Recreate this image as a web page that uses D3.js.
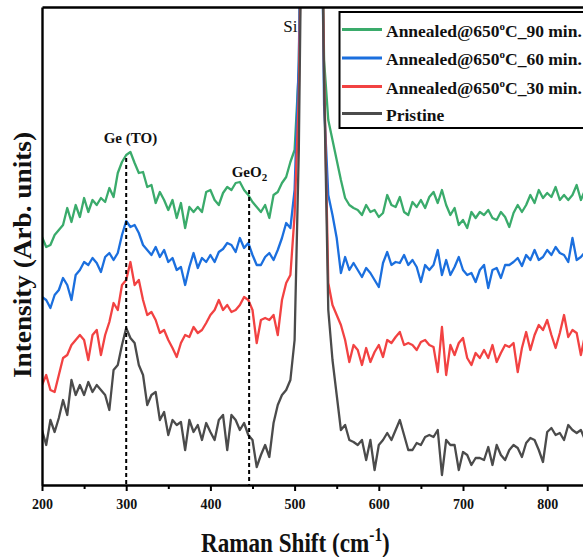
<!DOCTYPE html>
<html><head><meta charset="utf-8">
<script src="https://cdn.jsdelivr.net/npm/d3@7"></script>
<style>body{margin:0;background:#fff}svg{display:block}text{font-family:"Liberation Serif","Times New Roman",serif}</style>
</head><body><svg id="c" width="583" height="557"></svg>
<script>
const shift = [200,205,210,215,220,225,230,235,240,245,250,255,260,265,270,275,280,285,290,295,
300,305,310,315,320,325,330,335,340,345,350,355,360,365,370,375,380,385,390,395,
400,405,410,415,420,425,430,435,440,445,450,455,460,465,470,475,480,485,490,495,
500,505,510,515,520,525,530,535,540,545,550,555,560,565,570,575,580,585,590,595,
600,605,610,615,620,625,630,635,640,645,650,655,660,665,670,675,680,685,690,695,
700,705,710,715,720,725,730,735,740,745,750,755,760,765,770,775,780,785,790,795,
800,805,810,815,820,825,830,835,840,845,850];

const annealed90 = [248,238,240,250,255,260,277,263,280,268,287,273,285,280,287,283,297,288,312,323,
330,333,322,312,313,298,300,282,293,285,275,285,267,282,257,278,273,278,273,293,
295,285,280,292,298,295,302,303,295,290,283,278,273,280,267,290,293,302,308,323,
335,415,760,1150,1500,1150,760,425,365,345,325,305,287,280,277,275,270,280,273,275,
268,272,290,280,278,288,273,270,283,278,285,277,288,293,282,295,280,270,277,260,
265,257,273,267,273,270,275,267,265,273,268,258,272,280,273,280,290,282,295,287,
292,288,298,285,290,285,290,300,285,295,290];

const annealed60 = [188,185,177,190,195,207,200,185,210,215,223,220,227,222,213,228,232,225,232,250,
264,258,260,252,240,235,230,238,228,235,223,227,215,218,200,218,232,217,227,223,
230,223,233,236,242,240,233,247,237,242,230,220,220,228,232,225,235,247,262,257,
295,425,740,1120,1480,1120,740,380,290,270,247,212,228,215,222,215,208,217,212,205,
198,222,233,220,223,222,230,220,225,218,203,220,215,220,235,210,225,210,218,228,
215,210,212,203,215,220,197,215,217,207,220,220,223,227,219,230,225,235,225,228,
235,230,238,232,230,223,247,225,228,233,230];

const annealed30 = [100,110,95,93,110,127,130,140,145,150,145,125,150,155,130,150,163,182,175,200,
205,223,200,205,185,170,173,165,152,155,145,137,128,142,150,148,158,152,155,162,
170,175,185,175,180,173,175,180,188,185,175,142,165,167,165,170,150,185,202,210,
270,390,700,1100,1450,1100,720,415,202,180,170,160,145,123,140,135,120,137,123,133,
140,128,145,142,148,153,140,142,140,135,143,145,140,138,113,158,110,140,130,142,
147,127,120,132,127,135,127,140,123,132,140,138,142,113,137,153,135,150,160,155,
165,150,137,152,170,148,155,152,130,150,147];

const pristine = [55,40,65,53,67,85,70,105,90,100,90,103,93,100,95,90,75,115,120,140,
157,147,142,120,110,80,90,93,65,73,50,65,60,63,35,65,53,60,45,62,
53,45,65,70,35,70,65,55,62,50,45,18,30,40,28,62,80,90,95,105,
145,335,690,1080,1420,1080,700,405,175,125,90,55,60,45,43,40,45,25,45,15,
40,45,52,45,55,65,50,35,35,42,40,48,50,48,55,10,45,40,40,15,
33,30,20,27,27,25,38,20,40,30,25,35,40,37,28,42,47,45,35,23,
53,57,50,52,45,60,55,52,55,45,50];

const seriesNames = ["Annealed@650\u1D52C_90 min.","Annealed@650\u1D52C_60 min.","Annealed@650\u1D52C_30 min.","Pristine"];
const seriesColors = ["#3aab6b","#1b6fde","#f24242","#4b4b4b"];
const seriesValues = [annealed90, annealed60, annealed30, pristine];

const xTicks = [200,300,400,500,600,700,800];
const xMinorTicks = [250,350,450,550,650,750,850];

// peak annotation markers: position (cm-1), top of dashed line (a.u.)
const peakPos = [300, 446];
const peakTop = [327, 295];

const svg = d3.select("#c");
const W = 583, H = 557;
const m = {left:42, top:7, bottom:72};
const x = d3.scaleLinear().domain([200,850]).range([42, 42+650*0.842]);
const y = d3.scaleLinear().domain([0,478]).range([H-m.bottom, m.top]);

svg.append("defs").append("clipPath").attr("id","clip")
  .append("rect").attr("x",x(200)).attr("y",y(478)).attr("width",W).attr("height",y(0)-y(478));

const plot = svg.append("g").attr("clip-path","url(#clip)");
const line = d3.line().x((d,i)=>x(shift[i])).y(d=>y(d));
seriesValues.forEach((vals,k)=>{
  plot.append("path").datum(vals).attr("d",line)
    .attr("fill","none").attr("stroke",seriesColors[k]).attr("stroke-width",2.3)
    .attr("stroke-linejoin","round");
});

// dashed markers
peakPos.forEach((p,i)=>{
  svg.append("line").attr("x1",x(p)).attr("x2",x(p)).attr("y1",y(peakTop[i])).attr("y2",y(0))
    .attr("stroke","#000").attr("stroke-width",2).attr("stroke-dasharray","4,3");
});

// axes
const xAxis = svg.append("g").attr("transform",`translate(0,${y(0)})`)
  .call(d3.axisBottom(x).tickValues(xTicks).tickSize(6).tickSizeOuter(0).tickPadding(8));
xAxis.select(".domain").attr("stroke-width",2.6);
xAxis.selectAll(".tick line").attr("stroke-width",2);
xAxis.selectAll(".tick text").attr("font-size",14).attr("font-weight","bold")
  .attr("font-family","Liberation Serif").attr("fill","#111");
const xMinor = svg.append("g").attr("transform",`translate(0,${y(0)})`)
  .call(d3.axisBottom(x).tickValues(xMinorTicks).tickSize(4).tickSizeOuter(0).tickFormat(""));
xMinor.select(".domain").remove();
xMinor.selectAll(".tick line").attr("stroke-width",2);

const yAxis = svg.append("g").attr("transform",`translate(${x(200)},0)`)
  .call(d3.axisLeft(y).tickValues([]).tickSizeOuter(0));
yAxis.select(".domain").attr("stroke-width",2.4);
const topAxis = svg.append("g").attr("transform",`translate(0,${y(478)})`)
  .call(d3.axisTop(x).tickValues([]).tickSizeOuter(0));
topAxis.select(".domain").attr("stroke-width",2.4);

// x label
const xl = svg.append("text").attr("x",201).attr("y",552).attr("font-size",27).attr("font-weight","bold").attr("fill","#111");
xl.append("tspan").text("Raman Shift (cm");
xl.append("tspan").attr("font-size",18).attr("dy",-11).text("-1");
xl.append("tspan").attr("dy",11).text(")");
{ const w = xl.node().getBBox().width; const s = 189/w;
  xl.attr("transform",`translate(201,0) scale(${s},1) translate(-201,0)`); }

// y label
const yl = svg.append("text").attr("font-size",26).attr("font-weight","bold").attr("fill","#111")
  .attr("text-anchor","middle").text("Intensity (Arb. units)");
{ const w = yl.node().getBBox().width; const s = 246/w;
  yl.attr("transform",`translate(31,255) rotate(-90) scale(${s},1)`); }

// peak labels
svg.append("text").attr("x",x(305)).attr("y",y(342)).attr("text-anchor","middle")
  .attr("font-size",15).attr("font-weight","bold").attr("fill","#111").text("Ge (TO)");
const geo = svg.append("text").attr("x",x(425.3)).attr("y",y(308))
  .attr("font-size",15).attr("font-weight","bold").attr("fill","#111");
geo.append("tspan").text("GeO");
geo.append("tspan").attr("font-size",11).attr("dy",4).text("2");
svg.append("text").attr("x",x(486.5)).attr("y",y(453))
  .attr("font-size",17).attr("fill","#111").text("Si");

// legend
const lg = svg.append("g");
lg.append("rect").attr("x",339.5).attr("y",12).attr("width",260).attr("height",116)
  .attr("fill","#fff").attr("stroke","#000").attr("stroke-width",2);
const rowY = [29.5,58,86.5,113.5];
seriesNames.forEach((n,i)=>{
  lg.append("line").attr("x1",342).attr("x2",382).attr("y1",rowY[i]).attr("y2",rowY[i])
    .attr("stroke",seriesColors[i]).attr("stroke-width",3);
  const t = lg.append("text").attr("x",386).attr("y",rowY[i]+7).attr("font-size",17.5)
    .attr("font-weight","bold").attr("fill","#111");
  if (n.indexOf("\u1D52")>=0) {
    const parts = n.split("\u1D52");
    t.append("tspan").text(parts[0]);
    t.append("tspan").attr("font-size",11).attr("dy",-7).text("o");
    t.append("tspan").attr("dy",7).text(parts[1]);
  } else t.text(n);
});
</script></body></html>
